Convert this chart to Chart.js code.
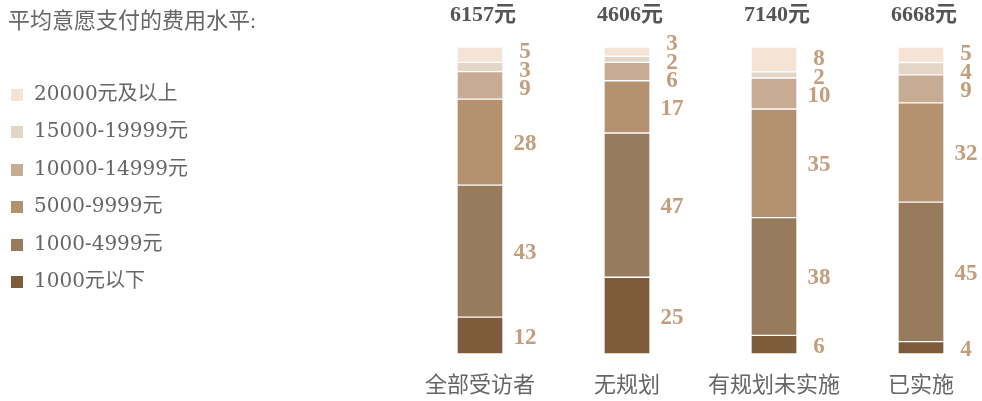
<!DOCTYPE html>
<html>
<head>
<meta charset="utf-8">
<script src="https://cdn.jsdelivr.net/npm/chart.js@4/dist/chart.umd.min.js"></script>
<style>
  body { margin: 0; background: #fff; }
  #wrap { position: relative; width: 982px; height: 401px; overflow: hidden; }
  #chart { position: absolute; left: 0; top: 0; }
  #legend { position: absolute; left: 0; top: 0; font-family: "DejaVu Serif", "Noto Sans CJK SC", serif; color: #666; }
  #legend .title { position: absolute; left: 8px; top: 2px; font-size: 22px; white-space: nowrap; font-family: "Liberation Serif", "Noto Sans CJK SC", serif; }
  #legend .item { position: absolute; left: 11px; height: 26px; line-height: 26px; font-size: 20px; white-space: nowrap; }
  #legend .box { display: inline-block; width: 12px; height: 12px; margin-right: 11px; vertical-align: -1px; }
</style>
</head>
<body>
<div id="wrap">
  <canvas id="chart" width="982" height="401"></canvas>
  <div id="legend"></div>
</div>
<script>
// 数据
const categories = ['全部受访者', '无规划', '有规划未实施', '已实施'];
const seriesNames = ['1000元以下', '1000-4999元', '5000-9999元', '10000-14999元', '15000-19999元', '20000元及以上'];
const below1000 = [12, 25, 6, 4];
const from1000 = [43, 47, 38, 45];
const from5000 = [28, 17, 35, 32];
const from10000 = [9, 6, 10, 9];
const from15000 = [3, 2, 2, 4];
const above20000 = [5, 3, 8, 5];
const averageCost = [6157, 4606, 7140, 6668];
const legendTitle = '平均意愿支付的费用水平:';

const seriesValues = [below1000, from1000, from5000, from10000, from15000, above20000];
const colors = ['#7d5b3b', '#987a5d', '#b4926f', '#c7ab93', '#e3d6c7', '#f5e4d5'];

const serif = '"Liberation Serif", "Noto Sans CJK SC", serif';

// 每个类别的总和，用于把柱子拉满
const sums = categories.map((c, i) => seriesValues.reduce((s, v) => s + v[i], 0));

// 图例 (HTML)
const legendEl = document.getElementById('legend');
const title = document.createElement('div');
title.className = 'title';
title.textContent = legendTitle;
legendEl.appendChild(title);
seriesNames.slice().reverse().forEach((name, k) => {
    const idx = seriesNames.length - 1 - k;
    const item = document.createElement('div');
    item.className = 'item';
    item.style.top = (80 + k * 37.4) + 'px';
    item.innerHTML = `<span class="box" style="background:${colors[idx]}"></span>${name}`;
    legendEl.appendChild(item);
});

// 标签避让：重叠的标签合并成一组，围绕平均位置排开
function spread(ys, gap) {
    let groups = ys.map(y => ({ wanted: [y] }));
    const top = g => g.wanted.reduce((a, b) => a + b, 0) / g.wanted.length - (g.wanted.length - 1) * gap / 2;
    let merged = true;
    while (merged) {
        merged = false;
        for (let k = 0; k < groups.length - 1; k++) {
            const a = groups[k], b = groups[k + 1];
            const aEnd = top(a) + (a.wanted.length - 1) * gap;
            if (top(b) - aEnd < gap) {
                groups.splice(k, 2, { wanted: a.wanted.concat(b.wanted) });
                merged = true;
                break;
            }
        }
    }
    const out = [];
    groups.forEach(g => {
        const t = top(g);
        g.wanted.forEach((w, j) => out.push(t + j * gap));
    });
    return out;
}

const segmentLabels = {
    id: 'segmentLabels',
    afterDatasetsDraw(chart) {
        const ctx = chart.ctx;
        ctx.save();
        ctx.textAlign = 'center';
        ctx.textBaseline = 'middle';
        categories.forEach((cat, i) => {
            const items = seriesValues.map((vals, d) => {
                const bar = chart.getDatasetMeta(d).data[i];
                return { text: String(vals[i]), x: bar.x + 45, y: (bar.y + bar.base) / 2 };
            }).sort((a, b) => a.y - b.y);
            const ys = spread(items.map(it => it.y), 18.5);
            ctx.font = 'bold 23px ' + serif;
            ctx.fillStyle = '#c29e7d';
            items.forEach((it, k) => ctx.fillText(it.text, it.x, ys[k] + 2));

            // 顶部平均费用
            const topBar = chart.getDatasetMeta(seriesValues.length - 1).data[i];
            ctx.font = 'bold 22px ' + serif;
            ctx.fillStyle = '#555';
            ctx.fillText(averageCost[i] + '元', topBar.x + 3, 15);
        });
        ctx.restore();
    }
};

new Chart(document.getElementById('chart'), {
    type: 'bar',
    data: {
        labels: categories,
        datasets: seriesValues.map((vals, d) => ({
            label: seriesNames[d],
            data: vals.map((v, i) => v / sums[i] * 100),
            backgroundColor: colors[d],
            borderColor: 'rgba(255,255,255,0.25)',
            borderWidth: 1,
            borderSkipped: false,
            barThickness: 46,
            clip: false
        }))
    },
    options: {
        responsive: false,
        animation: false,
        layout: { padding: { left: 480, right: 61, top: 47, bottom: 0 } },
        scales: {
            x: {
                stacked: true,
                offset: false,
                grid: { display: false, drawTicks: false },
                border: { display: false },
                ticks: {
                    padding: 19,
                    autoSkip: false,
                    maxRotation: 0,
                    color: '#666',
                    font: { size: 22, family: serif }
                },
                afterFit: (scale) => { scale.height = 47; }
            },
            y: { stacked: true, display: false, min: 0, max: 100 }
        },
        plugins: {
            legend: { display: false },
            tooltip: { enabled: false }
        }
    },
    plugins: [segmentLabels]
});
</script>
</body>
</html>
